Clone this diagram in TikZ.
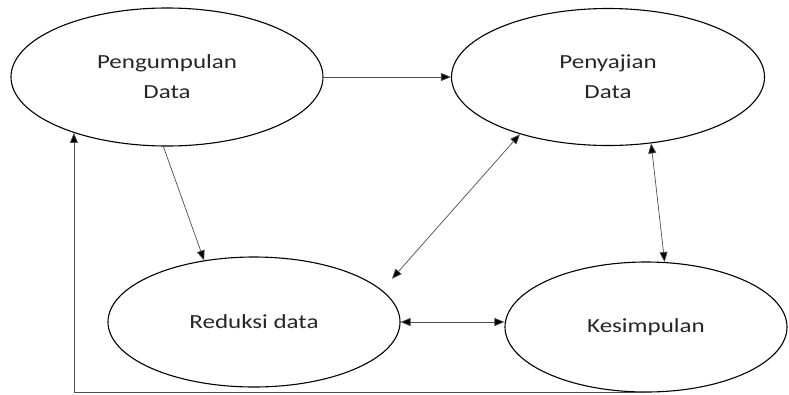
\documentclass[tikz,border=0pt]{standalone}
\usepackage{fontspec}
\setmainfont{Carlito}[FakeStretch=1.25]
\usetikzlibrary{shapes.geometric,arrows.meta}

\begin{document}
\begin{tikzpicture}[x=1pt,y=-1pt,
  stage/.style={ellipse, draw, line width=1.1pt, inner sep=0pt, align=center,
    font=\fontsize{20}{30}\selectfont, text=black!85},
  flow/.style={line width=0.7pt, draw=black!70, -{Triangle[length=10pt,width=8pt,fill=black]}},
  both/.style={flow, {Triangle[length=10pt,width=8pt,fill=black]}-{Triangle[length=10pt,width=8pt,fill=black]}}]

\useasboundingbox (0,0) rectangle (789,394);

\node[stage, minimum width=312pt, minimum height=138pt] (P0) at (167,77) {Pengumpulan\\Data};
\node[stage, minimum width=313pt, minimum height=137pt] (P1) at (608,77) {Penyajian\\Data};
\node[stage, minimum width=292pt, minimum height=130pt] (R) at (254,322) {Reduksi data};
\node[stage, minimum width=282pt, minimum height=130pt] (K) at (646,327) {Kesimpulan};

\draw[flow] (P0.east) -- (P1.west);
\draw[flow] (P0.267) -- (R.129);
\draw[both, shorten >=15pt] (P1.213) -- (R.14);
\draw[both] (P1.303) -- (K.74);
\draw[both] (R.east) -- (R.east -| K.west);
\draw[flow] (K.south) -| (P0.211);

\end{tikzpicture}
\end{document}
